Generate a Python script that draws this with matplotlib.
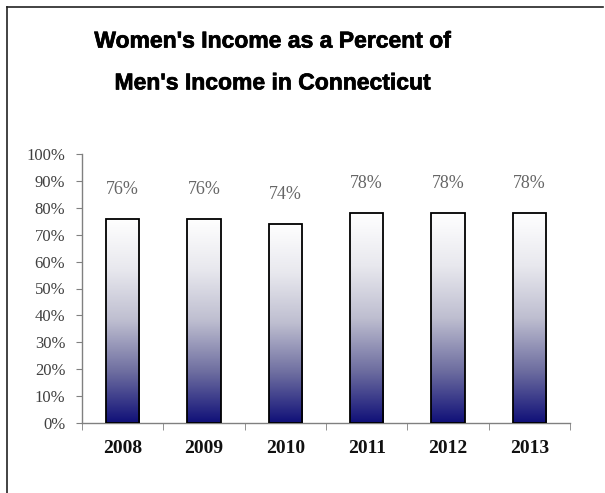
import matplotlib
matplotlib.use("Agg")
import matplotlib.pyplot as plt
import numpy as np
from matplotlib.colors import LinearSegmentedColormap
from matplotlib.lines import Line2D
import matplotlib.patheffects as pe

years = ["2008", "2009", "2010", "2011", "2012", "2013"]
values = [76, 76, 74, 78, 78, 78]
labels = ["76%", "76%", "74%", "78%", "78%", "78%"]
yticks = [0, 10, 20, 30, 40, 50, 60, 70, 80, 90, 100]
title = "Women's Income as a Percent of\nMen's Income in Connecticut"

fig = plt.figure(figsize=(6.05, 4.93), dpi=100)
ax = fig.add_axes([82/605, 1 - 423/493, (570-82)/605, (423-154)/493])

cmap = LinearSegmentedColormap.from_list("grad", [
    (0.0, (16/255, 16/255, 120/255)),
    (0.25, (110/255, 110/255, 160/255)),
    (0.5, (190/255, 190/255, 208/255)),
    (0.75, (232/255, 232/255, 238/255)),
    (1.0, (1, 1, 1)),
])

x = np.arange(len(years))
bars = ax.bar(x, values, width=0.41, color="none", edgecolor="black", linewidth=1.3, zorder=3)
grad = np.linspace(0, 1, 256).reshape(-1, 1)
for b in bars:
    x0, y0 = b.get_x(), b.get_y()
    w, h = b.get_width(), b.get_height()
    im = ax.imshow(grad, cmap=cmap, origin="lower", aspect="auto",
                   extent=[x0, x0 + w, y0, y0 + h], zorder=2)
    im.set_clip_path(b)

for xi, v, lab in zip(x, values, labels):
    ax.annotate(lab, (xi, v), xytext=(0, 15), textcoords="offset points",
                ha="center", va="bottom", fontsize=13, color="#666666",
                family="Liberation Serif")

ax.set_xlim(-0.5, len(years) - 0.5)
ax.set_ylim(0, 100)
ax.set_yticks(yticks)
ax.set_yticklabels([f"{t}%" for t in yticks], family="Liberation Serif",
                   fontsize=12, color="#404040")
ax.set_xticks(x)
ax.set_xticklabels(years, family="Liberation Serif", fontsize=14,
                   fontweight="bold", color="#111111")
ax.set_xticks(np.arange(len(years) + 1) - 0.5, minor=True)
ax.tick_params(axis="x", which="major", length=0, pad=12)
ax.tick_params(axis="x", which="minor", length=5, color="#808080", direction="out")
ax.tick_params(axis="y", length=4, color="#808080", direction="out", pad=8)
for s in ["top", "right"]:
    ax.spines[s].set_visible(False)
for s in ["left", "bottom"]:
    ax.spines[s].set_color("#808080")
    ax.spines[s].set_linewidth(1)

fig.text(272/605, 1 - 62/493, title, ha="center", va="center", fontsize=16.5,
         fontweight="bold", family=["Liberation Sans Narrow", "Liberation Sans"],
         linespacing=2.05,
         path_effects=[pe.withStroke(linewidth=0.5, foreground="black")])

# outer frame (partially cropped)
fig.add_artist(Line2D([7/605, 7/605], [0, 1 - 7/493], transform=fig.transFigure,
                      color="#222222", linewidth=1.2))
fig.add_artist(Line2D([7/605, 603/605], [1 - 7/493, 1 - 7/493], transform=fig.transFigure,
                      color="#222222", linewidth=1.2))

fig.savefig("out.png", dpi=100)
